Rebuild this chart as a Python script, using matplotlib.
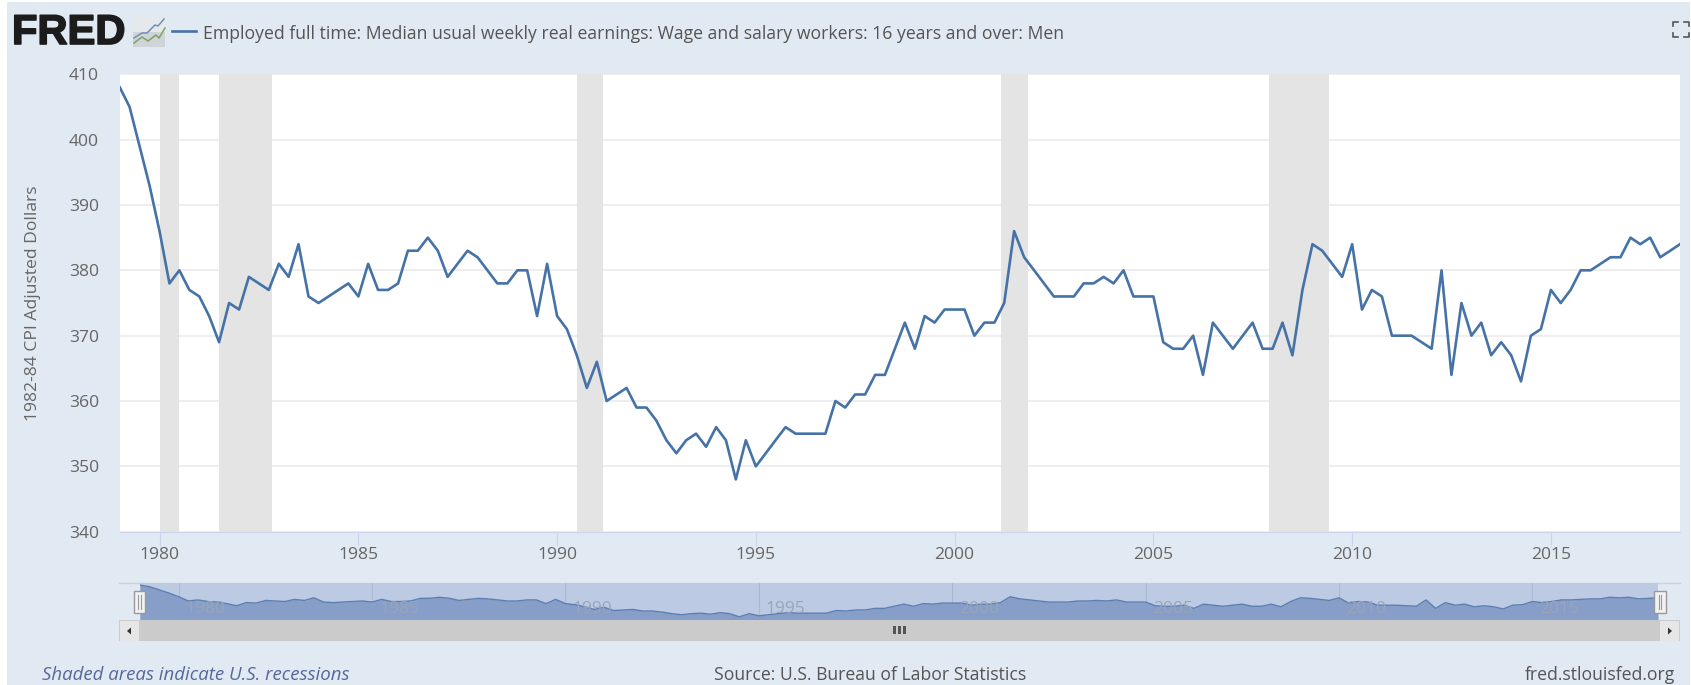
import pandas as pd
import matplotlib
matplotlib.use("Agg")
import matplotlib.pyplot as plt
import matplotlib.dates as mdates
import matplotlib.patheffects as pe
from matplotlib.patches import Rectangle, Polygon

plt.rcParams['font.family'] = ['Open Sans', 'DejaVu Sans']

# quarterly values, 1979 Q1 onwards
earnings = [408, 405, 399, 393, 386, 378, 380, 377, 376, 373, 369, 375, 374, 379, 378, 377,
            381, 379, 384, 376, 375, 376, 377, 378, 376, 381, 377, 377, 378, 383, 383, 385,
            383, 379, 381, 383, 382, 380, 378, 378, 380, 380, 373, 381, 373, 371, 367, 362,
            366, 360, 361, 362, 359, 359, 357, 354, 352, 354, 355, 353, 356, 354, 348, 354,
            350, 352, 354, 356, 355, 355, 355, 355, 360, 359, 361, 361, 364, 364, 368, 372,
            368, 373, 372, 374, 374, 374, 370, 372, 372, 375, 386, 382, 380, 378, 376, 376,
            376, 378, 378, 379, 378, 380, 376, 376, 376, 369, 368, 368, 370, 364, 372, 370,
            368, 370, 372, 368, 368, 372, 367, 377, 384, 383, 381, 379, 384, 374, 377, 376,
            370, 370, 370, 369, 368, 380, 364, 375, 370, 372, 367, 369, 367, 363, 370, 371,
            377, 375, 377, 380, 380, 381, 382, 382, 385, 384, 385, 382, 383, 384]
dates = pd.date_range('1979-01-01', periods=len(earnings), freq='QS')

recession_start = ['1980-01-01', '1981-07-01', '1990-07-01', '2001-03-01', '2007-12-01']
recession_end = ['1980-07-01', '1982-11-01', '1991-03-01', '2001-11-01', '2009-06-01']

y_ticks = [340, 350, 360, 370, 380, 390, 400, 410]
x_years = [1980, 1985, 1990, 1995, 2000, 2005, 2010, 2015]

series_name = 'Employed full time: Median usual weekly real earnings: Wage and salary workers: 16 years and over: Men'

W, H = 1691, 685
BG = '#e1e9f2'
LINE = '#4572a7'
TXT = '#666666'
year_dates = [pd.Timestamp(f'{y}-01-01') for y in x_years]
x_start, x_end = pd.Timestamp('1979-01-01'), pd.Timestamp('2018-04-01')


def px_axes(left, top, right, bottom):
    return fig.add_axes([left / W, 1 - bottom / H, (right - left) / W, (bottom - top) / H])


fig = plt.figure(figsize=(W / 100, H / 100), dpi=100, facecolor='white')

# page furniture, drawn in pixel coordinates
bg = fig.add_axes([0, 0, 1, 1], zorder=0)
bg.set_xlim(0, W)
bg.set_ylim(H, 0)
bg.axis('off')
bg.add_patch(Rectangle((7, 2), 1683, 683, color=BG, lw=0))

# logo
bg.text(12, 33, 'FRED', fontsize=30, fontweight='bold', family='Liberation Sans', color='#1c1c1c',
        va='center', ha='left', path_effects=[pe.withStroke(linewidth=1.2, foreground='#1c1c1c')])
bg.add_patch(Rectangle((133, 18), 32, 14, color='#e6e9ec', lw=0))
bg.add_patch(Rectangle((133, 32), 32, 15, color='#cfd4d8', lw=0))
bg.plot([134, 142, 147, 155, 158, 164], [38, 33, 33, 25, 26, 19], color='#6f92b8', lw=1.1)
bg.plot([134, 142, 148, 156, 159, 165], [43, 37, 41, 35, 38, 28], color='#7fa45c', lw=1.1)

# legend
bg.plot([172, 196], [31, 31], color=LINE, lw=1.9)
bg.text(203, 34, series_name, fontsize=12.7, color='#555555', va='center', ha='left')

# expand icon
for x0, dx in [(1673, 5), (1689, -5)]:
    for y0, dy in [(22, 4), (37, -4)]:
        bg.plot([x0 + dx, x0, x0], [y0, y0, y0 + dy], color='#555555', lw=1.2)

# y axis label
bg.text(33, 303, '1982-84 CPI Adjusted Dollars', rotation=90, fontsize=12.6, color=TXT,
        va='center', ha='center')

# footer
bg.text(42, 675, 'Shaded areas indicate U.S. recessions', fontsize=13.4, style='italic',
        color='#56689a', va='center', ha='left')
bg.text(714, 675, 'Source: U.S. Bureau of Labor Statistics', fontsize=12.7, color='#555555',
        va='center', ha='left')
bg.text(1675, 675, 'fred.stlouisfed.org', fontsize=12.7, color='#555555', va='center', ha='right')

# scrollbar
bg.plot([119, 1680], [583, 583], color='#cdd1d8', lw=1)
bg.add_patch(Rectangle((119, 619.5), 1561, 21.5, color='#cbcbcb', lw=0))
bg.add_patch(Rectangle((120, 620.5), 19, 20, color='#e6e6e6', lw=0))
bg.add_patch(Rectangle((1660, 620.5), 19, 20, color='#e6e6e6', lw=0))
bg.add_patch(Polygon([[127, 631], [131, 627.5], [131, 634.5]], color='#333333', lw=0))
bg.add_patch(Polygon([[1672, 631], [1668, 627.5], [1668, 634.5]], color='#333333', lw=0))
for gx in [894, 899, 904]:
    bg.add_patch(Rectangle((gx - 1.5, 626), 3, 8, color='#555555', lw=0))

# main chart
ax = px_axes(119.8, 74.3, 1680, 531.7)
ax.set_zorder(1)
ax.set_facecolor('white')
ax.set_xlim(x_start, x_end)
ax.set_ylim(340, 410)
ax.set_yticks(y_ticks)
ax.grid(axis='y', color='#ebebeb', lw=1.2, zorder=1)
ax.set_axisbelow(True)
for s, e in zip(recession_start, recession_end):
    ax.axvspan(pd.Timestamp(s), pd.Timestamp(e), color='#e4e4e4', lw=0, zorder=1.5)
ax.plot(dates, earnings, color=LINE, lw=1.9, zorder=3)
ax.set_xticks(year_dates)
ax.xaxis.set_major_formatter(mdates.DateFormatter('%Y'))
for side in ['top', 'left', 'right']:
    ax.spines[side].set_visible(False)
ax.spines['bottom'].set_color('#ccd6eb')
ax.tick_params(axis='x', length=10, width=0.8, color='#ccd6eb', labelsize=12.6, labelcolor=TXT, pad=1)
ax.tick_params(axis='y', length=0, labelsize=12.6, labelcolor=TXT, pad=15)

# navigator
nav = px_axes(140, 583, 1658, 619.5)
nav.set_zorder(1)
nav.set_facecolor('#bccae3')
nav.set_xlim(x_start, x_end)
nav.set_ylim(343, 412)
nav.fill_between(dates, earnings, 343, color='#869ec8', lw=0, zorder=2)
nav.plot(dates, earnings, color='#5c7fb2', lw=1, zorder=3)
nav.set_xticks(year_dates)
nav.set_yticks([])
nav.tick_params(axis='x', length=0, labelbottom=False)
nav.grid(axis='x', color='#aab8d3', lw=0.8, zorder=1)
for side in nav.spines:
    nav.spines[side].set_visible(False)
for y, d in zip(x_years, year_dates):
    nav.annotate(str(y), xy=(d, 0.29), xycoords=('data', 'axes fraction'), xytext=(5, 0),
                 textcoords='offset points', fontsize=12.5, color='#9aa5b9', va='center', ha='left',
                 zorder=4)

# navigator handles, on top of everything
top = fig.add_axes([0, 0, 1, 1], zorder=2)
top.set_xlim(0, W)
top.set_ylim(H, 0)
top.axis('off')
for hx in [133.5, 1654]:
    top.add_patch(Rectangle((hx, 591), 11.5, 22, facecolor='#f2f2f2', edgecolor='#999999', lw=1))
    top.plot([hx + 4.5, hx + 4.5], [595, 609], color='#999999', lw=0.8)
    top.plot([hx + 7, hx + 7], [595, 609], color='#999999', lw=0.8)

plt.savefig('out.png', dpi=100, facecolor=fig.get_facecolor())
